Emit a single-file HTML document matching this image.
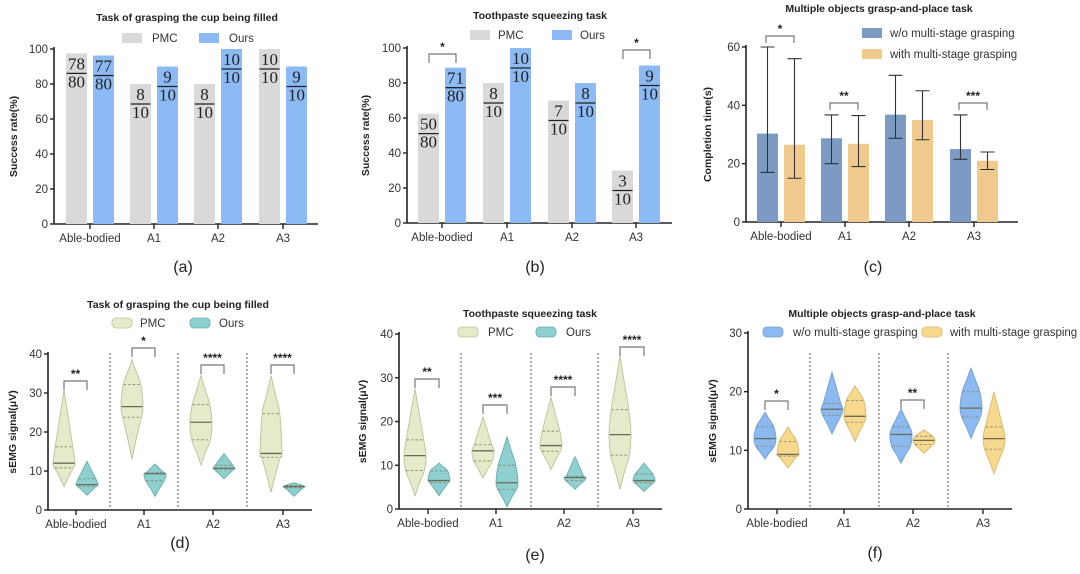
<!DOCTYPE html>
<html><head><meta charset="utf-8"><style>
html,body{margin:0;padding:0;background:#fff;}
svg{display:block;font-family:"Liberation Sans",Arial,sans-serif;}
.frac{font-family:"Liberation Serif",serif;font-size:17px;fill:#222;}
</style></head><body>
<svg id="fig" width="1080" height="574" viewBox="0 0 1080 574" xmlns="http://www.w3.org/2000/svg"></svg>
<script>
// ---------- data ----------
const categories = ["Able-bodied","A1","A2","A3"];
// (a)
const aPMC = [97.5, 80, 80, 100];
const aOurs = [96.25, 90, 100, 90];
const aPMCLabels = ["78/80","8/10","8/10","10/10"];
const aOursLabels = ["77/80","9/10","10/10","9/10"];
// (b)
const bPMC = [62.5, 80, 70, 30];
const bOurs = [88.75, 100, 80, 90];
const bPMCLabels = ["50/80","8/10","7/10","3/10"];
const bOursLabels = ["71/80","10/10","8/10","9/10"];
const bSig = [["*",0],["",1],["",2],["*",3]];
// (c)
const cWo = [30.3, 28.7, 36.8, 25];
const cWith = [26.5, 26.8, 35, 21];
const cWoLow = [17, 20, 28.7, 21.5];
const cWoHigh = [60, 36.7, 50.3, 36.7];
const cWithLow = [15, 19, 28.2, 18];
const cWithHigh = [56, 36.5, 45, 24];
const cSig = ["*","**","","***"];
// (d) violin stats: min,q1,med,q3,max
const dPMC = [[6,10.8,12,16.2,30.8],[13,23.8,26.5,32.2,38.5],[11.5,18,22.5,27,34.5],[4.5,13.5,14.5,24.7,34.5]];
const dOurs = [[3.8,6,6.5,8,12.5],[3.5,7.5,9.3,9.6,11.8],[8,10.3,10.7,11.5,14.5],[3.5,5.7,6,6.3,7]];
const dSig = ["**","*","****","****"];
// (e)
const ePMC = [[3,8.8,12.2,15.8,27.5],[7,11,13.3,14.7,21],[9,13.2,14.5,17.8,25.5],[4.5,12.3,17,22.7,35]];
const eOurs = [[3,6,6.5,8.7,10.5],[0.5,4.5,6,10,16.5],[4.5,6.5,7.2,7.5,12],[4,6,6.5,8,10.5]];
const eSig = ["**","***","****","****"];
// (f)
const fWo = [[8.5,10.7,12,14,16.5],[12.8,16,17,18,23.3],[7.8,10.7,12.7,14,17],[12,15.7,17.2,20,24]];
const fWith = [[7,9,9.3,11.5,14],[11.5,14.8,15.8,18.5,21],[9.5,11,11.7,12.4,13.5],[6,10.2,12,14,20]];
const fSig = ["*","","**",""];

// ---------- helpers ----------
const svg = document.getElementById('fig');
const NS = "http://www.w3.org/2000/svg";
function mk(tag, attrs, parent, text){
  const e = document.createElementNS(NS, tag);
  for (const k in attrs) e.setAttribute(k, attrs[k]);
  if (text !== undefined) e.textContent = text;
  (parent||svg).appendChild(e);
  return e;
}
function group(name){
  const g = document.createElementNS(NS,'g');
  
  
  svg.appendChild(g);
  return g;
}
function axes(g, P){
  const y = v => P.y0 - (v - 0)/(P.ymax)*(P.y0 - P.ytop);
  const ya = mk('line',{x1:P.x0,y1:P.ytop-2,x2:P.x0,y2:P.y0,stroke:'#222','stroke-width':1.6},g);
  
  
  const xa = mk('line',{x1:P.x0,y1:P.y0,x2:P.xend,y2:P.y0,stroke:'#222','stroke-width':1.6},g);
  
  
  P.yticks.forEach(t=>{
    const yy = y(t);
    mk('line',{x1:P.x0-4,y1:yy,x2:P.x0,y2:yy,stroke:'#222','stroke-width':1.4},g);
    const tl = mk('text',{x:P.x0-6,y:yy+4,'text-anchor':'end','font-size':11.5,fill:'#333'},g,String(t));
    
    
  });
  categories.forEach((c,i)=>{
    const cx = P.cats[i];
    mk('line',{x1:cx,y1:P.y0,x2:cx,y2:P.y0+5,stroke:'#222','stroke-width':1.4},g);
    const xl = mk('text',{x:cx,y:P.y0+18,'text-anchor':'middle','font-size':11.5,fill:'#333'},g,c);
    
    
  });
  const yt = mk('text',{x:P.ylx,y:(P.y0+P.ytop)/2,'text-anchor':'middle','font-size':10.5,'font-weight':'bold',fill:'#222',transform:`rotate(-90 ${P.ylx} ${(P.y0+P.ytop)/2})`},g,P.ytitle);
  
  
  const tt = mk('text',{x:P.tx,y:P.ty,'text-anchor':'middle','font-size':10.5,'font-weight':'bold',fill:'#222'},g,P.title);
  
  
  const pl = mk('text',{x:P.px,y:P.py,'text-anchor':'middle','font-size':16,fill:'#222'},g,P.plabel);
  
  
  return y;
}
function legend(g, items){
  items.forEach(it=>{
    const r = mk('rect',{x:it.x,y:it.y-5,width:20,height:10,fill:it.fill,stroke:it.stroke||'none','stroke-width':0.8,rx:it.rx||0},g);
    
    
    const t = mk('text',{x:it.tx,y:it.y+4,'font-size':11.5,fill:'#333'},g,it.label);
    
    
  });
}
function fraction(g, cx, top, label){
  const [n,d] = label.split('/');
  const t1 = mk('text',{x:cx,y:top+16,'text-anchor':'middle',class:'frac'},g,n);
  
  
  mk('line',{x1:cx-10,y1:top+20,x2:cx+10,y2:top+20,stroke:'#222','stroke-width':1.3},g);
  const t2 = mk('text',{x:cx,y:top+34,'text-anchor':'middle',class:'frac'},g,d);
  
  
}
function bracket(g, x1, x2, ytop, ybot, stars){
  const p = mk('path',{d:`M${x1},${ybot} L${x1},${ytop} L${x2},${ytop} L${x2},${ybot}`,fill:'none',stroke:'#777','stroke-width':1.2},g);
  
  
  const t = mk('text',{x:(x1+x2)/2,y:ytop-3,'text-anchor':'middle','font-size':12,'font-weight':'bold',fill:'#222'},g,stars);
  
  
}
function barPanel(name, P, s1, s2, l1, l2, c1, c2){
  const g = group(name);
  const y = axes(g,P);
  categories.forEach((c,i)=>{
    const cx = P.cats[i];
    [[s1,l1,c1,-13.5,'bar-pmc-'],[s2,l2,c2,13.5,'bar-ours-']].forEach(([s,l,col,off,nm])=>{
      const top = y(s[i]);
      const r = mk('rect',{x:cx+off-10.5,y:top,width:21,height:P.y0-top,fill:col},g);
      
      
      if (l) fraction(g, cx+off, top, l[i]);
    });
  });
  return {g,y};
}
function smoothPath(pts){
  let d = `M${pts[0][0]},${pts[0][1]}`;
  for (let i=0;i<pts.length-1;i++){
    const p0 = pts[Math.max(0,i-1)], p1 = pts[i], p2 = pts[i+1], p3 = pts[Math.min(pts.length-1,i+2)];
    const c1x = p1[0]+(p2[0]-p0[0])/6, c1y = p1[1]+(p2[1]-p0[1])/6;
    const c2x = p2[0]-(p3[0]-p1[0])/6, c2y = p2[1]-(p3[1]-p1[1])/6;
    d += ` C${c1x},${c1y} ${c2x},${c2y} ${p2[0]},${p2[1]}`;
  }
  return d;
}
function violin(g, cx, y, s, hw, fill, stroke, nm){
  const [mn,q1,md,q3,mx] = s;
  const prof = [[mx,0],[(q3+mx)/2,0.4],[q3,0.8],[md,1],[q1,0.85],[(mn+q1)/2,0.4],[mn,0]];
  const right = prof.map(p=>[cx+p[1]*hw, y(p[0])]);
  const left = prof.slice().reverse().map(p=>[cx-p[1]*hw, y(p[0])]);
  const d = smoothPath(right) + smoothPath(left).replace(/^M[^C]*/,' L'+left[0][0]+','+left[0][1]) + ' Z';
  const p = mk('path',{d:d,fill:fill,stroke:stroke,'stroke-width':0.9},g);
  
  
  const wAt = v=>{ for(let i=0;i<prof.length-1;i++){const a=prof[i],b=prof[i+1]; if(v<=a[0]&&v>=b[0]){const t=(a[0]-v)/((a[0]-b[0])||1);return a[1]+(b[1]-a[1])*t;}} return 0; };
  [[q1,true],[md,false],[q3,true]].forEach(([v,dash])=>{
    const w = wAt(v)*hw*0.95;
    const a = {x1:cx-w,y1:y(v),x2:cx+w,y2:y(v),stroke:dash?'#8a8a70':'#6b6b55','stroke-width':dash?0.9:1.3};
    if (dash) a['stroke-dasharray']='2.5,2';
    mk('line',a,g);
  });
}
function violinPanel(name, P, s1, s2, f1, st1, f2, st2, sig, sigPos){
  const g = group(name);
  const y = axes(g,P);
  P.divs.forEach(x=>{
    const l = mk('line',{x1:x,y1:P.divTop,x2:x,y2:P.y0,stroke:'#666','stroke-width':1.1,'stroke-dasharray':'2,2'},g);
    
    
  });
  categories.forEach((c,i)=>{
    violin(g, P.cats[i]+P.o1, y, s1[i], P.hw, f1, st1, 'violin-a-'+i);
    violin(g, P.cats[i]+P.o2, y, s2[i], P.hw, f2, st2, 'violin-b-'+i);
    if (sig[i]) { const sp = sigPos[i]; bracket(g, P.cats[i]+P.o1, P.cats[i]+P.o2, sp, sp+9, sig[i]); }
  });
  return g;
}

// ---------- (a) ----------
const PA = {x0:54,y0:224,ytop:49,ymax:100,xend:318,cats:[90,154,218,283],yticks:[0,20,40,60,80,100],ytitle:'Success rate(%)',ylx:17,title:'Task of grasping the cup being filled',tx:187,ty:21,plabel:'(a)',px:183,py:272};
const A = barPanel('panel-a-success-cup', PA, aPMC, aOurs, aPMCLabels, aOursLabels, '#d9d9d9', '#8cbaf5');
legend(A.g,[{x:122,y:38,fill:'#d9d9d9',tx:152,label:'PMC'},{x:199,y:38,fill:'#8cbaf5',tx:229,label:'Ours'}]);

// ---------- (b) ----------
const PB = {x0:407,y0:223,ytop:48,ymax:100,xend:672,cats:[442,507,572,636],yticks:[0,20,40,60,80,100],ytitle:'Success rate(%)',ylx:369,title:'Toothpaste squeezing task',tx:540,ty:19,plabel:'(b)',px:535,py:272};
const B = barPanel('panel-b-success-toothpaste', PB, bPMC, bOurs, bPMCLabels, bOursLabels, '#d9d9d9', '#8cbaf5');
legend(B.g,[{x:470,y:35,fill:'#d9d9d9',tx:498,label:'PMC'},{x:552,y:35,fill:'#8cbaf5',tx:580,label:'Ours'}]);
bSig.forEach(([s,i])=>{ if(s){ bracket(B.g, PB.cats[i]-13, PB.cats[i]+14, i===0?54:50, i===0?63:59, s);} });

// ---------- (c) ----------
const PC = {x0:746,y0:222,ytop:47,ymax:60,xend:1018,cats:[781,845,909,974],yticks:[0,20,40,60],ytitle:'Completion time(s)',ylx:711,title:'Multiple objects grasp-and-place task',tx:879,ty:12,plabel:'(c)',px:873,py:272};
const C = barPanel('panel-c-completion-time', PC, cWo, cWith, null, null, '#7b9bc4', '#f0c98c');
legend(C.g,[{x:862,y:33,fill:'#7b9bc4',tx:890,label:'w/o multi-stage grasping'},{x:862,y:54,fill:'#f0c98c',tx:890,label:'with multi-stage grasping'}]);
categories.forEach((c,i)=>{
  [[cWoLow,cWoHigh,-13.5],[cWithLow,cWithHigh,13.5]].forEach(([lo,hi,off])=>{
    const x = PC.cats[i]+off;
    const e = mk('path',{d:`M${x},${C.y(lo[i])} L${x},${C.y(hi[i])} M${x-7},${C.y(lo[i])} L${x+7},${C.y(lo[i])} M${x-7},${C.y(hi[i])} L${x+7},${C.y(hi[i])}`,stroke:'#333','stroke-width':1.1,fill:'none'},C.g);
    
    
  });
  if (cSig[i]) { const yt = i===0?36:103; bracket(C.g, PC.cats[i]-15, PC.cats[i]+13, yt, yt+7, cSig[i]); }
});

// ---------- (d) ----------
const PD = {x0:48,y0:510,ytop:354,ymax:40,xend:312,cats:[76,144,213,283],yticks:[0,10,20,30,40],ytitle:'sEMG signal(μV)',ylx:16,title:'Task of grasping the cup being filled',tx:178,ty:308,plabel:'(d)',px:180,py:548,divs:[110,178,247],divTop:353,o1:-12,o2:11,hw:11};
const D = violinPanel('panel-d-semg-cup', PD, dPMC, dOurs, '#e4eaca', '#b9c49c', '#8ecfcf', '#6aaeae', dSig, [381,348,365,365]);
legend(D,[{x:112,y:323,fill:'#e4eaca',stroke:'#b9c49c',rx:4,tx:140,label:'PMC'},{x:190,y:323,fill:'#8ecfcf',stroke:'#6aaeae',rx:4,tx:219,label:'Ours'}]);

// ---------- (e) ----------
const PE = {x0:399,y0:509,ytop:334,ymax:40,xend:662,cats:[428,496,564,633],yticks:[0,10,20,30,40],ytitle:'sEMG signal(μV)',ylx:366,title:'Toothpaste squeezing task',tx:530,ty:317,plabel:'(e)',px:535,py:560,divs:[461,531,598],divTop:353,o1:-13,o2:11,hw:11};
const E = violinPanel('panel-e-semg-toothpaste', PE, ePMC, eOurs, '#e4eaca', '#b9c49c', '#8ecfcf', '#6aaeae', eSig, [379,405,387,347]);
legend(E,[{x:458,y:332,fill:'#e4eaca',stroke:'#b9c49c',rx:4,tx:488,label:'PMC'},{x:536,y:332,fill:'#8ecfcf',stroke:'#6aaeae',rx:4,tx:566,label:'Ours'}]);

// ---------- (f) ----------
const PF = {x0:748,y0:509,ytop:333,ymax:30,xend:1012,cats:[777,844,913,983],yticks:[0,10,20,30],ytitle:'sEMG signal(μV)',ylx:716,title:'Multiple objects grasp-and-place task',tx:882,ty:317,plabel:'(f)',px:875,py:558,divs:[810,879,948],divTop:353,o1:-12,o2:11,hw:11};
const F = violinPanel('panel-f-semg-grasp-place', PF, fWo, fWith, '#8cbaf0', '#6f9fd8', '#f7d98e', '#d9b86a', fSig, [401,400,400,400]);
legend(F,[{x:763,y:332,fill:'#8cbaf0',stroke:'#6f9fd8',rx:4,tx:793,label:'w/o multi-stage grasping'},{x:922,y:332,fill:'#f7d98e',stroke:'#d9b86a',rx:4,tx:950,label:'with multi-stage grasping'}]);
</script>
</body></html>
